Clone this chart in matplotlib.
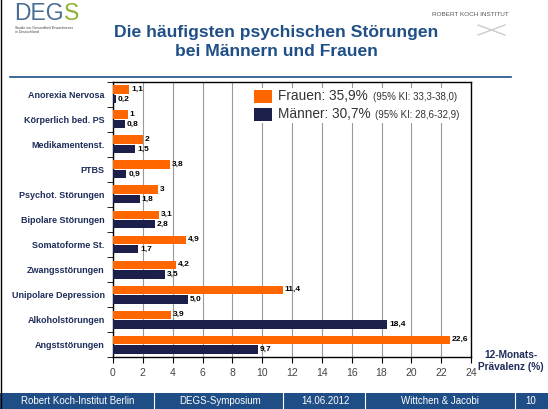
import matplotlib
matplotlib.use("Agg")
import matplotlib.pyplot as plt
from matplotlib.patches import Rectangle
import numpy as np

plt.rcParams['font.family'] = ['Liberation Sans', 'DejaVu Sans']

categories = ["Anorexia Nervosa", "Körperlich bed. PS", "Medikamentenst.", "PTBS",
              "Psychot. Störungen", "Bipolare Störungen", "Somatoforme St.",
              "Zwangsstörungen", "Unipolare Depression", "Alkoholstörungen", "Angststörungen"]
frauen = [1.1, 1.0, 2.0, 3.8, 3.0, 3.1, 4.9, 4.2, 11.4, 3.9, 22.6]
maenner = [0.2, 0.8, 1.5, 0.9, 1.8, 2.8, 1.7, 3.5, 5.0, 18.4, 9.7]
frauen_labels = ["1,1", "1", "2", "3,8", "3", "3,1", "4,9", "4,2", "11,4", "3,9", "22,6"]
maenner_labels = ["0,2", "0,8", "1,5", "0,9", "1,8", "2,8", "1,7", "3,5", "5,0", "18,4", "9,7"]
xticks = [0, 2, 4, 6, 8, 10, 12, 14, 16, 18, 20, 22, 24]

ORANGE = "#FF6600"
NAVY = "#1C1F4A"
TXT = "#1F2D5A"
BLUE = "#1F4F86"

W, H = 548, 409
fig = plt.figure(figsize=(W / 100, H / 100), dpi=100)

ax = fig.add_axes([113 / W, 1 - 357 / H, (471 - 113) / W, (357 - 82) / H])
n = len(categories)
y = np.arange(n)
bh = 0.34
ax.barh(y - bh / 2 - 0.02, frauen, height=bh, color=ORANGE, zorder=3)
ax.barh(y + bh / 2 + 0.02, maenner, height=bh, color=NAVY, zorder=3)
for i in range(n):
    ax.text(frauen[i] + 0.12, y[i] - bh / 2 - 0.02, frauen_labels[i], va='center', ha='left',
            fontsize=6, fontweight='bold', color='black', zorder=4)
    ax.text(maenner[i] + 0.12, y[i] + bh / 2 + 0.02, maenner_labels[i], va='center', ha='left',
            fontsize=6, fontweight='bold', color='black', zorder=4)

ax.set_ylim(n - 0.5, -0.5)
ax.set_xlim(0, 24)
ax.set_xticks(xticks)
ax.set_xticklabels([str(t) for t in xticks], fontsize=7.5, color='#444444')
ax.set_yticks(y)
ax.set_yticklabels(categories, fontsize=6.5, fontweight='bold', color=TXT)
ax.set_yticks(np.arange(n + 1) - 0.5, minor=True)
ax.tick_params(axis='y', which='major', length=0, pad=6)
ax.tick_params(axis='y', which='minor', length=4, direction='out', color='black')
ax.tick_params(axis='x', length=4, direction='out', color='black', pad=4)
ax.grid(axis='x', color='#999999', linewidth=0.8, zorder=0)
for s in ax.spines.values():
    s.set_color('black')
    s.set_linewidth(1.0)

# legend box
lx0, ly0, lx1, ly1 = 253, 88, 470, 123
fig.patches.append(Rectangle((lx0 / W, 1 - ly1 / H), (lx1 - lx0) / W, (ly1 - ly0) / H,
                             transform=fig.transFigure, facecolor='white', edgecolor='none', zorder=5))
fig.patches.append(Rectangle((254 / W, 1 - 103 / H), 18 / W, 13 / H, transform=fig.transFigure,
                             facecolor=ORANGE, edgecolor='none', zorder=6))
fig.patches.append(Rectangle((254 / W, 1 - 121 / H), 18 / W, 13 / H, transform=fig.transFigure,
                             facecolor=NAVY, edgecolor='none', zorder=6))
fig.text(278 / W, 1 - 96.5 / H, "Frauen: 35,9%", fontsize=9.8, color='#333333',
         va='center', ha='left', zorder=7)
fig.text(278 / W, 1 - 114.5 / H, "Männer: 30,7%", fontsize=9.8, color='#333333',
         va='center', ha='left', zorder=7)
fig.text(373 / W, 1 - 97 / H, "(95% KI: 33,3-38,0)", fontsize=7.0, color='#333333',
         va='center', ha='left', zorder=7)
fig.text(375 / W, 1 - 115 / H, "(95% KI: 28,6-32,9)", fontsize=7.0, color='#333333',
         va='center', ha='left', zorder=7)

# axis label
fig.text(511 / W, 1 - 361 / H, "12-Monats-\nPrävalenz (%)", fontsize=7.3, fontweight='bold',
         color=TXT, ha='center', va='center', linespacing=1.3)

# title
fig.text(276 / W, 1 - 33 / H, "Die häufigsten psychischen Störungen", fontsize=12.6,
         fontweight='bold', color=BLUE, ha='center', va='center')
fig.text(276 / W, 1 - 52 / H, "bei Männern und Frauen", fontsize=12.6,
         fontweight='bold', color=BLUE, ha='center', va='center')
fig.add_artist(plt.Line2D([10 / W, 511 / W], [1 - 77 / H, 1 - 77 / H], color=BLUE, linewidth=1.2))

# DEGS logo
fig.canvas.draw()
r = fig.canvas.get_renderer()
tdeg = fig.text(14 / W, 1 - 14 / H, "DEG", fontsize=16.5, color='#4A6E93', ha='left', va='center')
bb = tdeg.get_window_extent(renderer=r)
fig.text(bb.x1 / W, 1 - 14 / H, "S", fontsize=16.5, color='#8DB33A', ha='left', va='center')
fig.text(15 / W, 1 - 30 / H, "Studie zur Gesundheit Erwachsener\nin Deutschland", fontsize=2.6,
         color='#444444', ha='left', va='center', linespacing=1.2)

# RKI
fig.text(470 / W, 1 - 14 / H, "ROBERT KOCH INSTITUT", fontsize=4.6, color='#555555',
         ha='center', va='center')
fig.add_artist(plt.Line2D([478 / W, 505 / W], [1 - 35 / H, 1 - 25 / H], color='#cccccc', linewidth=1))
fig.add_artist(plt.Line2D([478 / W, 505 / W], [1 - 25 / H, 1 - 35 / H], color='#cccccc', linewidth=1))

# left border
fig.add_artist(plt.Line2D([0.5 / W, 0.5 / W], [0, 1], color='black', linewidth=1))

# footer
fig.patches.append(Rectangle((0, 0), 1, 16 / H, transform=fig.transFigure,
                             facecolor='#1F4E86', edgecolor='none'))
footer = [("Robert Koch-Institut Berlin", 78), ("DEGS-Symposium", 220), ("14.06.2012", 326),
          ("Wittchen & Jacobi", 440), ("10", 531)]
for txt, cx in footer:
    fig.text(cx / W, 8 / H, txt, fontsize=7, color='white', ha='center', va='center')
for dx in [154, 283, 365, 515]:
    fig.add_artist(plt.Line2D([dx / W, dx / W], [0, 16 / H], color='white', linewidth=0.8))

fig.savefig("out.png", dpi=100)
